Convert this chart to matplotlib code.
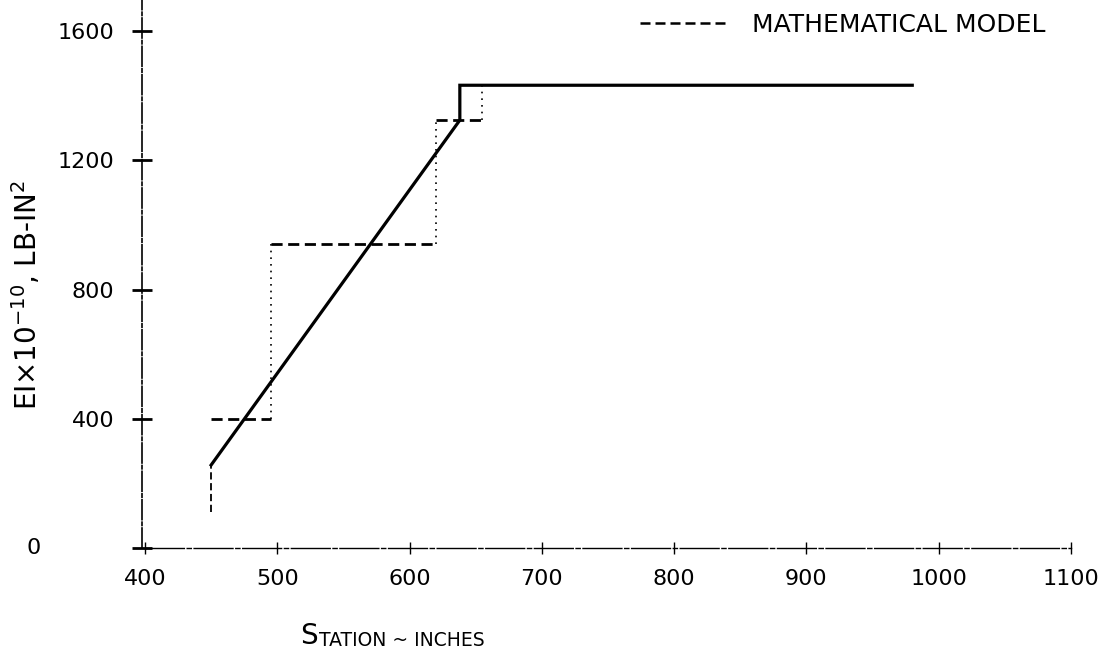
import numpy as np
import matplotlib
matplotlib.use('Agg')
import matplotlib.pyplot as plt
from matplotlib.lines import Line2D

# test curve (solid)
test_x = [450, 638, 638, 980]
test_y = [257, 1325, 1433, 1433]

# mathematical model: step edges and levels
model_edges = [450, 495, 620, 655]
model_levels = [400, 940, 1325, 1430]
model_start = [110, 260]   # short vertical at first station

x_ticks = [400, 500, 600, 700, 800, 900, 1000, 1100]
y_ticks = [0, 400, 800, 1200, 1600]

plt.rcParams['font.family'] = ['DejaVu Sans']

fig = plt.figure(figsize=(11.16, 6.56), dpi=100)
ax = fig.add_axes([145 / 1116, 108 / 656, 926 / 1116, 548 / 656])

# solid line
ax.plot(test_x, test_y, color='black', lw=2.3, solid_joinstyle='miter')

# model: dashed horizontals, dotted verticals
ax.plot([model_edges[0], model_edges[0]], model_start, color='black', lw=1.3, ls=(0, (4, 2)))
for i in range(len(model_edges) - 1):
    ax.plot([model_edges[i], model_edges[i + 1]], [model_levels[i], model_levels[i]],
            color='black', lw=2.0, ls=(0, (4, 2)))
    ax.plot([model_edges[i + 1], model_edges[i + 1]], [model_levels[i], model_levels[i + 1]],
            color='black', lw=1.2, ls=(0, (1, 3)))

ax.set_xlim(400, 1100)
ax.set_ylim(0, 1697)

for s in ['top', 'right']:
    ax.spines[s].set_visible(False)
ax.spines['left'].set_linestyle((0, (12, 1.5, 2, 1.5)))
ax.spines['left'].set_linewidth(1.2)
ax.spines['bottom'].set_linestyle((0, (28, 2, 3, 2)))
ax.spines['bottom'].set_linewidth(1.0)
ax.spines['left'].set_position(('outward', 2))

ax.set_xticks(x_ticks)
ax.set_xticklabels([str(v) for v in x_ticks])
ax.set_yticks(y_ticks)
ax.set_yticklabels(['' if v == 0 else str(v) for v in y_ticks])
ax.tick_params(axis='y', direction='inout', length=14, width=2.0, pad=13, labelsize=16)
ax.tick_params(axis='x', direction='inout', length=8, width=1.0, pad=11, labelsize=16)
ax.text(-0.12, 0, '0', transform=ax.get_yaxis_transform(), ha='center', va='center', fontsize=16)

# axis labels
s_txt = fig.text(300 / 1116, 1 - 644 / 656, 'S', fontsize=20, ha='left', va='baseline')
ax.annotate('TATION ~ INCHES', xy=(1.0, 0.0), xycoords=s_txt, xytext=(1, 0),
            textcoords='offset points', fontsize=13.5, ha='left', va='bottom')
fig.text(27 / 1116, 1 - 295 / 656, r'EI$\times$10$^{-10}$, LB-IN$^2$', rotation=90,
         fontsize=20, ha='center', va='center')

handle = Line2D([], [], color='black', lw=1.8, ls=(0, (4, 2)))
ax.legend([handle], ['MATHEMATICAL MODEL'], loc='upper right',
          bbox_to_anchor=(1068 / 1116, 1.015), bbox_transform=fig.transFigure,
          frameon=False, fontsize=18, handlelength=3.6, handletextpad=0.9)

fig.savefig('out.png', dpi=100, facecolor='white')
